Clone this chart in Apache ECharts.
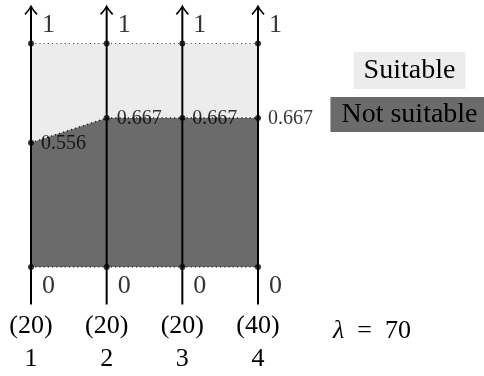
<!DOCTYPE html>
<html><head><meta charset="utf-8">
<script src="https://cdn.jsdelivr.net/npm/echarts@6/dist/echarts.min.js"></script>
<style>html,body{margin:0;padding:0;background:#fff}#c{width:484px;height:376px}</style>
</head><body><div id="c"></div>
<script>
// ---- data ----
const positions = [1, 2, 3, 4];
const weights = [20, 20, 20, 40];
const notSuitable = [0.556, 0.667, 0.667, 0.667];
const topValues = [1, 1, 1, 1];
const bottomValues = [0, 0, 0, 0];
const lambdaValue = 70;
const legendNames = ['Suitable', 'Not suitable'];

// ---- styles ----
const FONT = "'Times New Roman', 'Liberation Serif', serif";
const AX_MIN = -0.168, AX_MAX = 1.166;
const DARK = '#6b6b6b', LIGHT = '#ececec';

function pts(vals) { return positions.map((p, i) => [p, vals[i]]); }

const chart = echarts.init(document.getElementById('c'), null, { renderer: 'canvas' });

function dots(name, vals, fmt, fontSize, dist, offset) {
  return {
    type: 'scatter', name: name, data: pts(vals), z: 6, clip: false,
    symbol: 'circle', symbolSize: 6, itemStyle: { color: '#000' },
    label: {
      show: true, position: 'right', distance: dist, offset: offset,
      fontFamily: FONT, fontSize: fontSize, color: '#000',
      formatter: p => fmt(p.value[1])
    }
  };
}

const option = {
  animation: false,
  textStyle: { fontFamily: FONT },
  grid: { left: 31, right: 226, top: 43.5, bottom: 106 },
  xAxis: {
    type: 'value', min: 1, max: 4, interval: 1,
    axisLine: { show: false }, axisTick: { show: false }, splitLine: { show: false },
    axisLabel: {
      margin: 43, fontFamily: FONT, fontSize: 26, lineHeight: 33, color: '#000',
      formatter: v => '(' + weights[positions.indexOf(v)] + ')\n' + v
    }
  },
  yAxis: { type: 'value', min: 0, max: 1, show: false },
  series: [
    {
      type: 'line', name: legendNames[0], data: pts(topValues), z: 1, clip: false,
      showSymbol: false, symbol: 'none',
      lineStyle: { color: '#555', width: 1.2, type: [1.2, 3] },
      areaStyle: { color: LIGHT, opacity: 1 }
    },
    {
      type: 'line', name: legendNames[1], data: pts(notSuitable), z: 2, clip: false,
      showSymbol: false, symbol: 'none',
      lineStyle: { color: '#111', width: 1.2, type: [1.2, 3] },
      areaStyle: { color: DARK, opacity: 1 }
    },
    {
      type: 'line', name: 'base', data: pts(bottomValues), z: 3, clip: false,
      showSymbol: false, symbol: 'none',
      lineStyle: { color: '#111', width: 1.2, type: [1.2, 3] }
    },
    {
      type: 'custom', name: 'axes', z: 5, clip: false,
      data: positions.map(p => [p]),
      renderItem: function (params, api) {
        const x = api.value(0);
        const b = api.coord([x, AX_MIN]);
        const t = api.coord([x, AX_MAX]);
        const cx = t[0], ty = t[1];
        return {
          type: 'group',
          children: [
            { type: 'line', shape: { x1: cx, y1: b[1], x2: cx, y2: ty + 0.5 },
              style: { stroke: '#000', lineWidth: 2 } },
            { type: 'path',
              shape: { pathData: 'M' + (cx - 6) + ',' + (ty + 8) + ' Q' + (cx - 1.5) + ',' + (ty + 3) + ' ' + cx + ',' + ty +
                       ' Q' + (cx + 1.5) + ',' + (ty + 3) + ' ' + (cx + 6) + ',' + (ty + 8) },
              style: { stroke: '#000', lineWidth: 1.6, fill: null } }
          ]
        };
      }
    },
    dots('top', topValues, v => String(v), 26, 8, [0, -18]),
    dots('ns', notSuitable, v => v.toFixed(3), 20, 7, [0, 1]),
    dots('bottom', bottomValues, v => String(v), 26, 8, [0, 19])
  ],
  graphic: [
    { type: 'text', x: 409.5, y: 70.5, z: 10,
      style: { text: legendNames[0], fontSize: 28, fontFamily: FONT, fill: '#000',
               align: 'center', verticalAlign: 'middle', lineHeight: 27,
               backgroundColor: LIGHT, padding: [5, 10] } },
    { type: 'text', x: 409.5, y: 114.5, z: 10,
      style: { text: legendNames[1], fontSize: 28, fontFamily: FONT, fill: '#000',
               align: 'center', verticalAlign: 'middle', lineHeight: 27,
               backgroundColor: DARK, padding: [4, 11] } },
    { type: 'text', x: 333, y: 331, z: 10,
      style: { text: '{i|λ}  =  ' + lambdaValue, fontSize: 26, fontFamily: FONT, fill: '#000',
               align: 'left', verticalAlign: 'middle',
               rich: { i: { fontStyle: 'italic', fontFamily: FONT, fontSize: 26 } } } }
  ]
};
chart.setOption(option);
</script>
</body></html>
